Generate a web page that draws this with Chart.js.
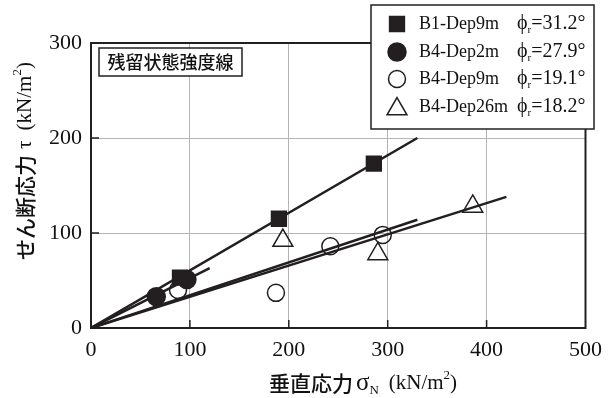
<!DOCTYPE html>
<html>
<head>
<meta charset="utf-8">
<script src="https://cdn.jsdelivr.net/npm/chart.js@4/dist/chart.umd.min.js"></script>
<style>
  html, body { margin: 0; padding: 0; background: #fff; }
  #wrap { width: 611px; height: 398px; }
</style>
</head>
<body>
<div id="wrap"><canvas id="chart"></canvas></div>
<script>
// series (sigma_N, tau in kN/m2)
const seriesNames = ['B1-Dep9m', 'B4-Dep2m', 'B4-Dep9m', 'B4-Dep26m'];
const phiValues = ['31.2', '27.9', '19.1', '18.2'];

const b1Dep9Sigma = [90, 190, 286];
const b1Dep9Tau = [53, 115, 173];
const b4Dep2Sigma = [66, 97];
const b4Dep2Tau = [33, 51];
const b4Dep9Sigma = [88, 187, 242, 295];
const b4Dep9Tau = [40, 37, 86, 98];
const b4Dep26Sigma = [194, 290, 386];
const b4Dep26Tau = [92, 78, 128];

// strength lines run from the origin to these end points
const lineEndSigma = [330, 120, 330, 420];
const lineEndTau = [200, 63, 114, 138];

const xTicks = [0, 100, 200, 300, 400, 500];
const yTicks = [0, 100, 200, 300];

const ink = '#231f20';
const serif = '"Liberation Serif", "Times New Roman", serif';
const cjk = '"Noto Sans CJK JP", sans-serif';

const markerStyles = [
    { pointStyle: 'rect', radius: 10.5, fill: ink },
    { pointStyle: 'circle', radius: 9, fill: ink },
    { pointStyle: 'circle', radius: 8.5, fill: 'rgba(0,0,0,0)' },
    { pointStyle: 'triangle', radius: 11.5, fill: 'rgba(0,0,0,0)' },
];

const pointSets = [
    [b1Dep9Sigma, b1Dep9Tau],
    [b4Dep2Sigma, b4Dep2Tau],
    [b4Dep9Sigma, b4Dep9Tau],
    [b4Dep26Sigma, b4Dep26Tau],
];

let datasets = [];
pointSets.forEach(([xs, ys], i) => {
    const m = markerStyles[i];
    datasets.push({
        type: 'scatter',
        label: seriesNames[i],
        data: xs.map((x, k) => ({ x: x, y: ys[k] })),
        pointStyle: m.pointStyle,
        pointRadius: m.radius,
        pointBackgroundColor: m.fill,
        pointBorderColor: ink,
        pointBorderWidth: 1.5,
        order: 0,
    });
});
lineEndSigma.forEach((x, i) => {
    datasets.push({
        type: 'line',
        label: seriesNames[i] + ' line',
        data: [{ x: 0, y: 0 }, { x: x, y: lineEndTau[i] }],
        borderColor: ink,
        borderWidth: 2.5,
        pointRadius: 0,
        fill: false,
        order: 1,
    });
});

function drawRuns(ctx, runs, cx, cy) {
    let total = 0;
    for (const r of runs) {
        ctx.font = r.font;
        total += ctx.measureText(r.text).width + (r.gap || 0);
    }
    let x = cx - total / 2;
    ctx.textAlign = 'left';
    ctx.textBaseline = 'middle';
    for (const r of runs) {
        ctx.font = r.font;
        ctx.fillText(r.text, x, cy + (r.dy || 0));
        x += ctx.measureText(r.text).width + (r.gap || 0);
    }
}

const decor = {
    id: 'decor',
    beforeDatasetsDraw(chart) {
        const ctx = chart.ctx;
        const a = chart.chartArea;
        const xs = chart.scales.x, ys = chart.scales.y;
        ctx.save();
        ctx.strokeStyle = ink;
        ctx.lineWidth = 1.5;
        ctx.beginPath();
        for (const t of xTicks.slice(1, -1)) {
            const px = xs.getPixelForValue(t);
            ctx.moveTo(px, a.bottom);
            ctx.lineTo(px, a.bottom - 8);
        }
        for (const t of yTicks.slice(1, -1)) {
            const py = ys.getPixelForValue(t);
            ctx.moveTo(a.left, py);
            ctx.lineTo(a.left + 8, py);
        }
        ctx.stroke();
        ctx.lineWidth = 2;
        ctx.strokeRect(a.left, a.top, a.right - a.left, a.bottom - a.top);
        ctx.restore();
    },
    afterDatasetsDraw(chart) {
        const ctx = chart.ctx;
        ctx.save();

        // annotation box
        ctx.fillStyle = '#fff';
        ctx.fillRect(99, 48, 143, 28);
        ctx.strokeStyle = ink;
        ctx.lineWidth = 1.5;
        ctx.strokeRect(99, 48, 143, 28);
        ctx.fillStyle = '#111';
        drawRuns(ctx, [{ text: '残留状態強度線', font: '500 18px ' + cjk }], 170.5, 62);

        // legend box
        ctx.fillStyle = '#fff';
        ctx.fillRect(371, 5, 223, 124);
        ctx.strokeRect(371, 5, 223, 124);
        const rowY = [24, 52, 79, 107];
        seriesNames.forEach((name, i) => {
            const m = markerStyles[i];
            ctx.fillStyle = m.fill;
            ctx.strokeStyle = ink;
            ctx.lineWidth = 1.5;
            Chart.helpers.drawPoint(ctx, { pointStyle: m.pointStyle, radius: m.radius, rotation: 0, borderWidth: 1.5 }, 397, rowY[i] + (m.pointStyle === 'triangle' ? 2 : 0));
            ctx.fillStyle = '#111';
            ctx.textAlign = 'left';
            ctx.textBaseline = 'middle';
            ctx.font = '18px ' + serif;
            ctx.fillText(name, 419, rowY[i]);
            let x = 517;
            ctx.font = '20px ' + serif;
            ctx.fillText('ϕ', x, rowY[i]);
            x += ctx.measureText('ϕ').width;
            ctx.font = '11px ' + serif;
            ctx.fillText('r', x, rowY[i] + 6);
            x += ctx.measureText('r').width;
            ctx.font = '20px ' + serif;
            ctx.fillText('=' + phiValues[i] + '°', x, rowY[i]);
        });

        // axis titles
        ctx.fillStyle = '#111';
        drawRuns(ctx, [
            { text: '垂直応力', font: '500 21px ' + cjk, gap: 3 },
            { text: 'σ', font: '25px ' + serif },
            { text: 'N', font: '13px ' + serif, dy: 8, gap: 10 },
            { text: '(kN/m', font: '21px ' + serif },
            { text: '2', font: '13px ' + serif, dy: -7 },
            { text: ')', font: '21px ' + serif },
        ], 363, 383);

        ctx.translate(25, 161);
        ctx.rotate(-Math.PI / 2);
        drawRuns(ctx, [
            { text: 'せん断応力', font: '500 21px ' + cjk, gap: 6 },
            { text: 'τ', font: '21px ' + serif, gap: 10 },
            { text: '(kN/m', font: '21px ' + serif },
            { text: '2', font: '13px ' + serif, dy: -7 },
            { text: ')', font: '21px ' + serif },
        ], 0, 0);
        ctx.restore();
    }
};

new Chart(document.getElementById('chart'), {
    data: { datasets },
    options: {
        responsive: true,
        maintainAspectRatio: false,
        animation: false,
        layout: { padding: { top: 43, right: 25, left: 0, bottom: 0 } },
        plugins: {
            legend: { display: false },
            tooltip: { enabled: false },
        },
        scales: {
            x: {
                type: 'linear',
                min: 0,
                max: 500,
                afterFit: (s) => { s.height = 70; },
                afterBuildTicks: (s) => { s.ticks = xTicks.map(v => ({ value: v })); },
                ticks: { color: '#111', font: { family: serif, size: 22 }, padding: 9 },
                grid: { color: '#b4b4b4', lineWidth: 1, drawTicks: false },
                border: { display: false },
            },
            y: {
                type: 'linear',
                min: 0,
                max: 300,
                afterFit: (s) => { s.width = 91; },
                afterBuildTicks: (s) => { s.ticks = yTicks.map(v => ({ value: v })); },
                ticks: { color: '#111', font: { family: serif, size: 22 }, padding: 9 },
                grid: { color: '#b4b4b4', lineWidth: 1, drawTicks: false },
                border: { display: false },
            },
        },
    },
    plugins: [decor],
});
</script>
</body>
</html>
